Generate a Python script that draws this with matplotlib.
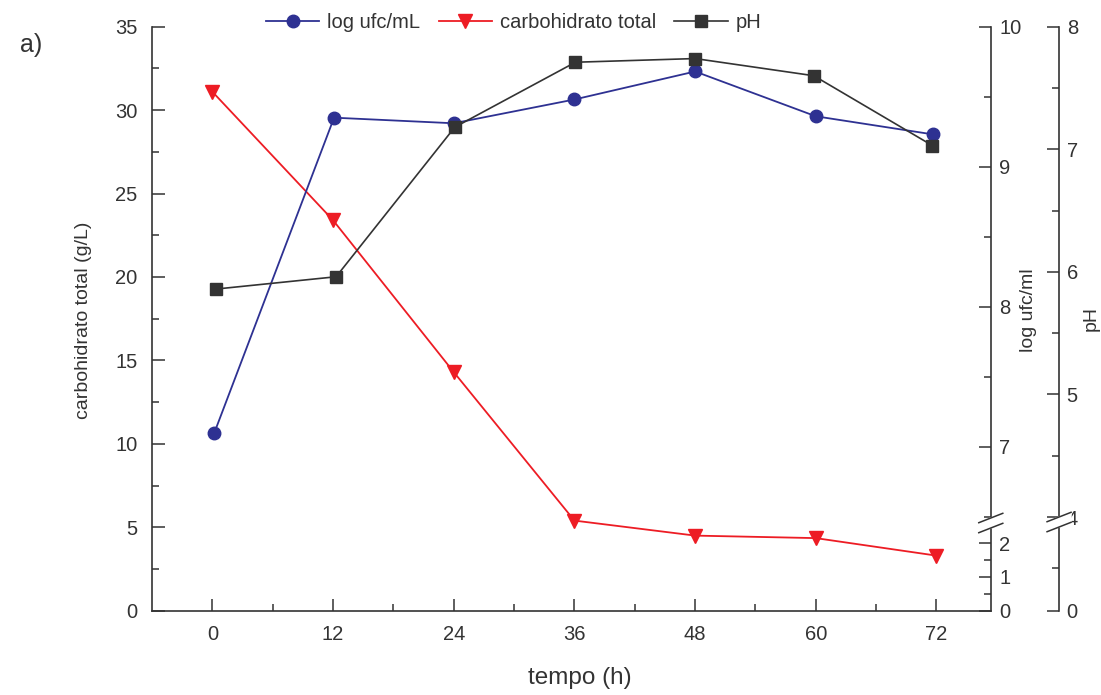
import numpy as np
import matplotlib.pyplot as plt

plt.rcParams['font.family'] = ['Liberation Sans', 'DejaVu Sans']

# values
tempo = [0, 12, 24, 36, 48, 60, 72]
carbohidrato = [31.1, 23.4, 14.3, 5.4, 4.5, 4.35, 3.3]
tempo_ufc = [0.2, 12.1, 24, 36, 48, 60, 71.7]
log_ufc = [7.10, 9.35, 9.31, 9.48, 9.68, 9.36, 9.23]
tempo_ph = [0.4, 12.3, 24.1, 36.1, 48, 59.8, 71.6]
ph = [5.86, 5.96, 7.18, 7.71, 7.74, 7.60, 7.03]

x_ticks = [0, 12, 24, 36, 48, 60, 72]
carb_ticks = [0, 5, 10, 15, 20, 25, 30, 35]
ufc_ticks = [0, 1, 2, 7, 8, 9, 10]
ufc_minor = [0.5, 1.5, 6.5, 7.5, 8.5, 9.5]
ph_ticks = [0, 4, 5, 6, 7, 8]
ph_minor = [2, 4.5, 5.5, 6.5, 7.5]

BLUE = '#2e3192'
RED = '#ed1c24'
DARK = '#333333'
AX_W, AX_H = 838.7, 584.0   # axes size in pixels


def broken_scale(ax, vals, fracs):
    """Piecewise linear y scale (axis with a break)."""
    vals = np.asarray(vals, float)
    fracs = np.asarray(fracs, float)

    def fwd(v):
        return np.interp(v, vals, fracs)

    def inv(f):
        return np.interp(f, fracs, vals)

    ax.set_yscale('function', functions=(fwd, inv))
    return fwd


def draw_break(ax, x, y):
    """Two slanted strokes over a spine at axes coords (x, y)."""
    dx, dy, gap = 12 / AX_W, 4.7 / AX_H, 5 / AX_H
    tr = ax.transAxes
    ax.fill([x - dx, x + dx, x + dx, x - dx],
            [y - gap - dy, y - gap + dy, y + gap + dy, y + gap - dy],
            color='white', transform=tr, clip_on=False, zorder=5)
    for s in (-gap, gap):
        ax.plot([x - dx, x + dx], [y + s - dy, y + s + dy], color=DARK, lw=1.1,
                transform=tr, clip_on=False, zorder=6)


def style_axis(a, axis, pad):
    a.tick_params(axis=axis, which='both', direction='in', width=1.1,
                  color=DARK, labelcolor=DARK, labelsize=14.5, pad=pad)
    a.tick_params(axis=axis, which='major', length=9)
    a.tick_params(axis=axis, which='minor', length=5)


fig = plt.figure(figsize=(11.01, 6.95), dpi=100)
ax = fig.add_axes([0.1381, 0.1213, 0.7618, 0.8403])
ax_ufc = ax.twinx()
ax_ph = ax.twinx()

# carbohidrato (left axis)
l_carb, = ax.plot(tempo, carbohidrato, color=RED, lw=1.3, marker='v', ms=10,
                  label='carbohidrato total')
ax.set_xlim(-6, 77.4)
ax.set_ylim(0, 35)
ax.set_xticks(x_ticks)
ax.set_xticks([6, 18, 30, 42, 54, 66], minor=True)
ax.set_yticks(carb_ticks)
ax.set_yticks(np.arange(2.5, 35, 5), minor=True)
for s in ['top', 'right']:
    ax.spines[s].set_visible(False)
for s in ['left', 'bottom']:
    ax.spines[s].set_linewidth(1.2)
    ax.spines[s].set_color(DARK)
style_axis(ax, 'y', 10.5)
style_axis(ax, 'x', 10.5)
ax.set_xlabel('tempo (h)', fontsize=17.5, color=DARK)
ax.xaxis.set_label_coords(0.51, -0.096)
ax.set_ylabel('carbohidrato total (g/L)', fontsize=14, color=DARK)
ax.yaxis.set_label_coords(-0.0715, 0.498)

# log ufc/ml (first right axis, broken)
ufc_vals = [0, 2.45, 6.49, 10]
ufc_fracs = [0, 0.1416, 0.1587, 1]
broken_scale(ax_ufc, ufc_vals, ufc_fracs)
l_ufc, = ax_ufc.plot(tempo_ufc, log_ufc, color=BLUE, lw=1.3, marker='o', ms=9,
                     label='log ufc/mL')
ax_ufc.set_ylim(0, 10)
ax_ufc.set_yticks(ufc_ticks)
ax_ufc.set_yticklabels([str(t) for t in ufc_ticks])
ax_ufc.set_yticks(ufc_minor, minor=True)
ax_ufc.yaxis.set_minor_formatter(plt.NullFormatter())
for s in ['top', 'left', 'bottom']:
    ax_ufc.spines[s].set_visible(False)
ax_ufc.spines['right'].set_linewidth(1.2)
ax_ufc.spines['right'].set_color(DARK)
style_axis(ax_ufc, 'y', 6)
ax_ufc.set_ylabel('log ufc/ml', fontsize=14, color=DARK)
ax_ufc.yaxis.set_label_coords(1.035, 0.515)

# pH (second right axis, broken)
ph_vals = [0, 3.9, 4.0, 8]
ph_fracs = [0, 0.1433, 0.1604, 1]
broken_scale(ax_ph, ph_vals, ph_fracs)
l_ph, = ax_ph.plot(tempo_ph, ph, color=DARK, lw=1.2, marker='s', ms=8.5,
                   label='pH')
ax_ph.set_ylim(0, 8)
ax_ph.set_yticks(ph_ticks)
ax_ph.set_yticklabels([str(t) for t in ph_ticks])
ax_ph.set_yticks(ph_minor, minor=True)
ax_ph.yaxis.set_minor_formatter(plt.NullFormatter())
for s in ['top', 'left', 'bottom']:
    ax_ph.spines[s].set_visible(False)
ax_ph.spines['right'].set_position(('axes', 1.0814))
ax_ph.spines['right'].set_linewidth(1.2)
ax_ph.spines['right'].set_color(DARK)
style_axis(ax_ph, 'y', 5.5)
ax_ph.set_ylabel('pH', fontsize=14, color=DARK)
ax_ph.yaxis.set_label_coords(1.109, 0.501)

# break marks on both right spines
draw_break(ax_ufc, 1.0, (ufc_fracs[1] + ufc_fracs[2]) / 2)
draw_break(ax_ph, 1.0814, (ph_fracs[1] + ph_fracs[2]) / 2)

fig.legend([l_ufc, l_carb, l_ph], ['log ufc/mL', 'carbohidrato total', 'pH'],
           loc='center left', bbox_to_anchor=(0.2416, 0.968), ncol=3,
           frameon=False, fontsize=14.5, handlelength=2.65, handletextpad=0.4,
           columnspacing=0.9, borderpad=0, borderaxespad=0, labelcolor=DARK)

fig.text(0.018, 0.935, 'a)', fontsize=18, color=DARK, va='center')

fig.savefig('out.png', dpi=100)
